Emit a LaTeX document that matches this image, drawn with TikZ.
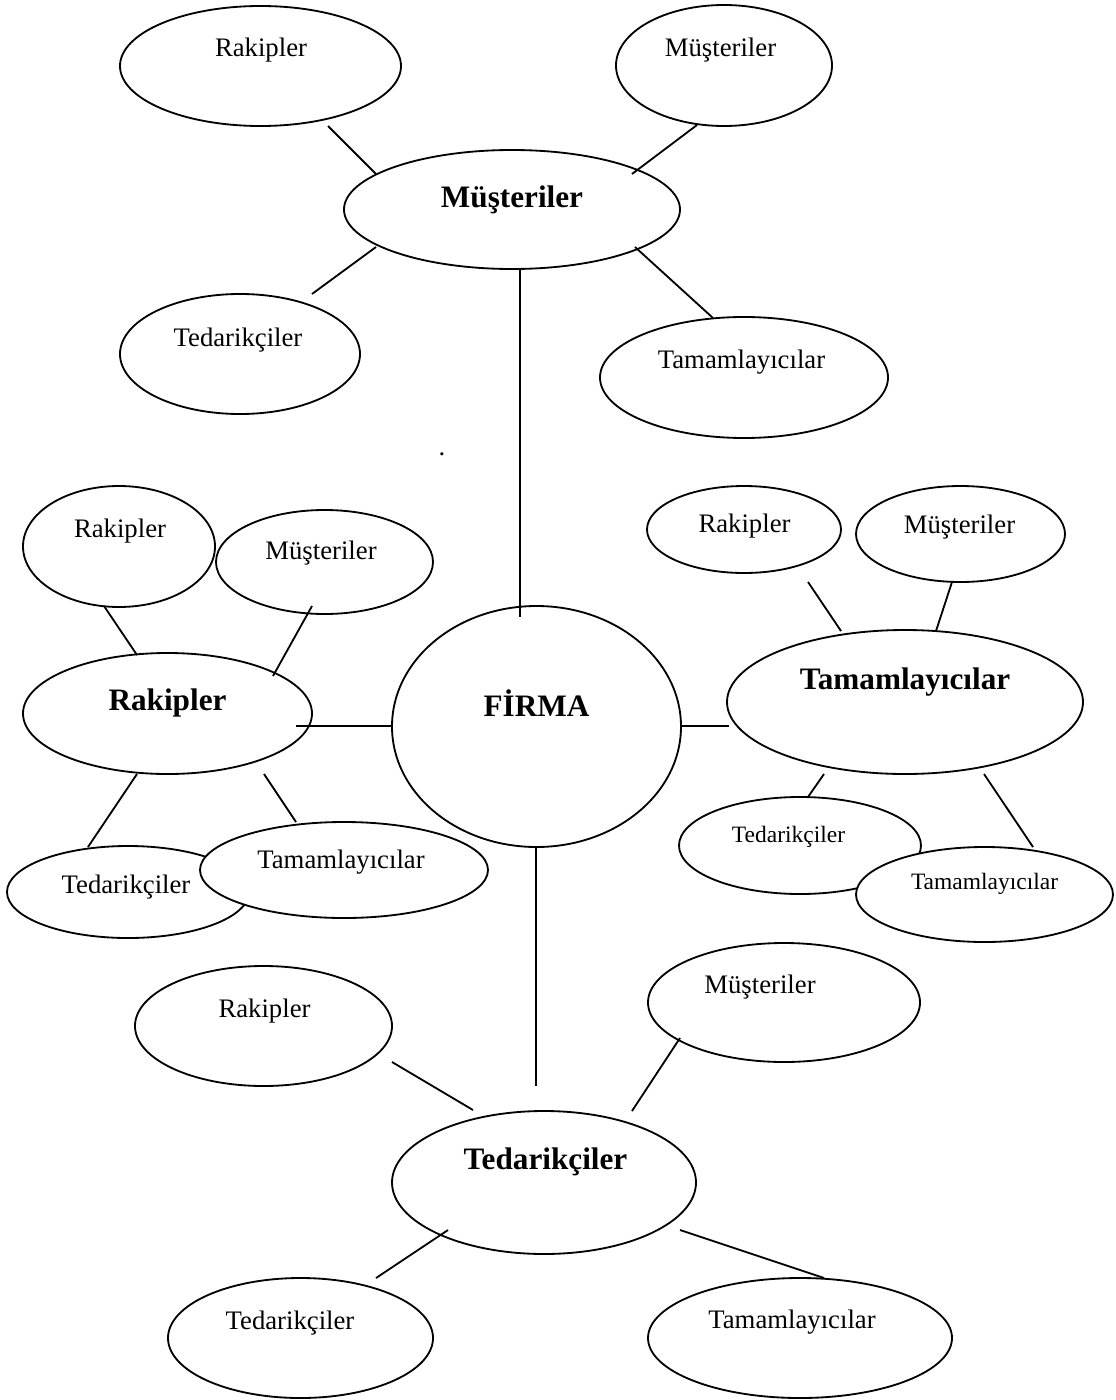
\documentclass[tikz,border=0pt]{standalone}
\usepackage{fontspec}
\setmainfont{Liberation Serif}
\usetikzlibrary{shapes.geometric,calc}

% one drawing unit
\newlength\pxu
\setlength\pxu{0.025cm}
% text inside an oval: horizontal shift, baseline lift, text
\newcommand\lbl[3]{\makebox[0pt]{\raisebox{#2\pxu}[0pt][0pt]{\hspace*{#1\pxu}\hspace*{#1\pxu}#3}}}

\tikzset{
  oval/.style 2 args={ellipse, draw, fill=white, line width=1.3pt, inner sep=0pt, outer sep=0pt,
    minimum width=#1*0.025cm, minimum height=#2*0.025cm},
  normtxt/.style={font=\fontsize{19pt}{22pt}\selectfont},
  smalltxt/.style={font=\fontsize{16.7pt}{20pt}\selectfont},
  boldtxt/.style={font=\fontsize{22.2pt}{26pt}\selectfont\bfseries},
  link/.style={line width=1.3pt},
}

\begin{document}
\begin{tikzpicture}[x=0.025cm, y=-0.025cm]
\useasboundingbox (0,0) rectangle (1116,1400);

% upper cluster
\node[oval={281}{120}, normtxt] (rk1) at (260.5,66) {\lbl{0.5}{9}{Rakipler}};
\node[oval={216}{121}, normtxt] (ms1) at (724,65.5) {\lbl{-3.5}{8.5}{Müşteriler}};
\node[oval={336}{119}, boldtxt] (msB) at (512,209.5) {\lbl{0}{2.5}{Müşteriler}};
\node[oval={240}{120}, normtxt] (td1) at (240,354) {\lbl{-2}{8}{Tedarikçiler}};
\node[oval={288}{121}, normtxt] (tm1) at (744,377.5) {\lbl{-2.5}{9.5}{Tamamlayıcılar}};
\node[normtxt, inner sep=0pt, anchor=base] (dot) at (442,455) {.};

% centre
\node[oval={289}{241}, boldtxt] (firma) at (536.5,726.5) {\lbl{0}{10.5}{FİRMA}};

% left cluster
\node[oval={192}{121}, normtxt] (rk2) at (119,546.5) {\lbl{1}{9.5}{Rakipler}};
\node[oval={217}{104}, normtxt] (ms2) at (324.5,562) {\lbl{-3.5}{3}{Müşteriler}};
\node[oval={289}{121}, boldtxt] (rkB) at (167.5,713.5) {\lbl{0}{3.5}{Rakipler}};
\node[oval={242}{92}, normtxt] (td2) at (128,892) {\lbl{-2}{-1}{Tedarikçiler}};
\node[oval={288}{96}, normtxt] (tm2) at (344,870) {\lbl{-3}{2}{Tamamlayıcılar}};

% right cluster
\node[oval={194}{87}, normtxt] (rk3) at (744,529.5) {\lbl{0.5}{-2.5}{Rakipler}};
\node[oval={209}{96}, normtxt] (ms3) at (960.5,534) {\lbl{-1}{1}{Müşteriler}};
\node[oval={356}{144}, boldtxt] (tmB) at (905,702) {\lbl{0}{13}{Tamamlayıcılar}};
\node[oval={242}{97}, smalltxt] (td3) at (800,845.5) {\lbl{-11.5}{3.5}{Tedarikçiler}};
\node[oval={257}{95}, smalltxt] (tm3) at (984.5,894.5) {\lbl{0}{5.5}{Tamamlayıcılar}};

% lower cluster
\node[oval={257}{120}, normtxt] (rk4) at (263.5,1026) {\lbl{1}{9}{Rakipler}};
\node[oval={272}{119}, normtxt] (ms4) at (784,1002.5) {\lbl{-24}{9.5}{Müşteriler}};
\node[oval={304}{143}, boldtxt] (tdB) at (544,1182.5) {\lbl{1.5}{13.5}{Tedarikçiler}};
\node[oval={265}{120}, normtxt] (td4) at (300.5,1338) {\lbl{-10.5}{9}{Tedarikçiler}};
\node[oval={304}{120}, normtxt] (tm4) at (800,1338) {\lbl{-8}{10}{Tamamlayıcılar}};

% connectors
\draw[link] ($(rk1)+(67.5,60)$) -- ($(msB)+(-136,-35.5)$);
\draw[link] ($(ms1)+(-27,59.5)$) -- ($(msB)+(120,-35.5)$);
\draw[link] ($(msB)+(-136,37.5)$) -- ($(td1)+(72,-60)$);
\draw[link] ($(msB)+(123,37.5)$) -- ($(tm1)+(-31,-59.5)$);
\draw[link] ($(msB)+(8,60.5)$) -- ($(firma)+(-16.5,-109.5)$);

\draw[link] ($(rk2)+(-15,59.5)$) -- ($(rkB)+(-30.5,-58.5)$);
\draw[link] ($(ms2)+(-12.5,44)$) -- ($(rkB)+(105.5,-37.5)$);
\draw[link] ($(rkB)+(128.5,12.5)$) -- ($(firma)+(-144.5,-0.5)$);
\draw[link] ($(rkB)+(-30.5,60.5)$) -- ($(td2)+(-40,-45)$);
\draw[link] ($(rkB)+(96.5,60.5)$) -- ($(tm2)+(-48,-48)$);

\draw[link] ($(firma)+(144.5,-0.5)$) -- ($(tmB)+(-176,24)$);
\draw[link] ($(rk3)+(64,52.5)$) -- ($(tmB)+(-64,-71)$);
\draw[link] ($(ms3)+(-8.5,48)$) -- ($(tmB)+(31,-71)$);
\draw[link] ($(tmB)+(-81,72)$) -- ($(td3)+(8,-48.5)$);
\draw[link] ($(tmB)+(79,72)$) -- ($(tm3)+(48.5,-47.5)$);

\draw[link] ($(firma)+(-0.5,120.5)$) -- ($(tdB)+(-8,-96.5)$);
\draw[link] ($(rk4)+(128.5,36)$) -- ($(tdB)+(-71,-72.5)$);
\draw[link] ($(ms4)+(-104,35.5)$) -- ($(tdB)+(88,-71.5)$);
\draw[link] ($(tdB)+(-96,47.5)$) -- ($(td4)+(75.5,-60)$);
\draw[link] ($(tdB)+(136,47.5)$) -- ($(tm4)+(24,-60)$);
\end{tikzpicture}
\end{document}
